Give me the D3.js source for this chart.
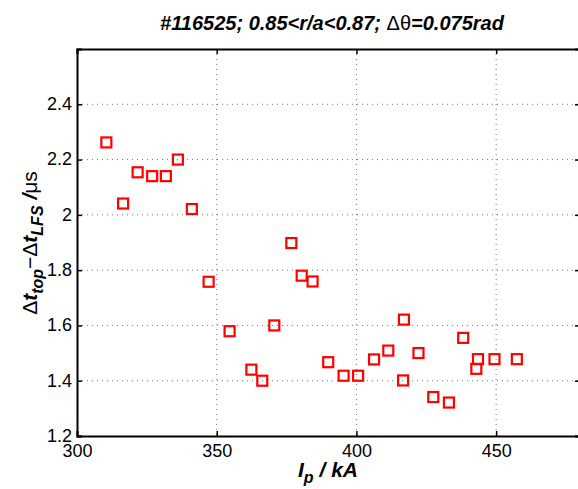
<!DOCTYPE html>
<html><head><meta charset="utf-8">
<script src="https://cdn.jsdelivr.net/npm/d3@7"></script>
<style>body{margin:0;background:#fff}svg{display:block}</style>
</head><body>
<script>
const currentKA = [310.5,316.5,321.7,326.9,331.8,336.1,341.1,347.1,354.6,362.4,366.3,370.6,376.7,380.4,384.3,389.9,395.4,400.6,406.3,411.4,417.0,416.7,422.2,427.5,433.1,438.2,443.5,442.9,449.4,457.4];
const deltaT = [2.262,2.041,2.154,2.14,2.14,2.2,2.021,1.758,1.579,1.44,1.40,1.60,1.898,1.78,1.759,1.467,1.418,1.418,1.477,1.509,1.621,1.401,1.50,1.341,1.321,1.555,1.478,1.443,1.478,1.478];
const xTicks = [300,350,400,450];
const yTicks = [1.2,1.4,1.6,1.8,2,2.2,2.4];

const W=578,H=489;
const m={l:77,r:580,t:49,b:436};
const svg=d3.select("body").append("svg").attr("width",W).attr("height",H);
const x=d3.scaleLinear().domain([300,480]).range([m.l,m.r]);
const y=d3.scaleLinear().domain([1.2,2.6]).range([m.b,m.t]);
const font="Liberation Sans, Arial, sans-serif";

// grid
const g=svg.append("g");
g.selectAll(".gx").data(xTicks.slice(1)).enter().append("line")
 .attr("x1",d=>x(d)).attr("x2",d=>x(d)).attr("y1",m.t).attr("y2",m.b)
 .attr("stroke","#777").attr("stroke-width",1).attr("stroke-dasharray","1,4");
g.selectAll(".gy").data(yTicks.slice(1)).enter().append("line")
 .attr("y1",d=>y(d)).attr("y2",d=>y(d)).attr("x1",m.l).attr("x2",m.r)
 .attr("stroke","#777").attr("stroke-width",1).attr("stroke-dasharray","1,4");

// axes
const xa=svg.append("g").attr("transform",`translate(0,${m.b})`)
 .call(d3.axisBottom(x).tickValues(xTicks).tickSize(-5).tickPadding(8).tickFormat(d3.format("d")));
const xt=svg.append("g").attr("transform",`translate(0,${m.t})`)
 .call(d3.axisTop(x).tickValues(xTicks).tickSize(-5).tickFormat(""));
const ya=svg.append("g").attr("transform",`translate(${m.l},0)`)
 .call(d3.axisLeft(y).tickValues(yTicks).tickSize(-5).tickPadding(5).tickFormat(d=>d3.format("")(d)));
const yr=svg.append("g").attr("transform",`translate(${m.r},0)`)
 .call(d3.axisRight(y).tickValues(yTicks).tickSize(-5).tickFormat(""));
[xa,xt,ya,yr].forEach(a=>{
 a.select(".domain").attr("stroke","#000").attr("stroke-width",2);
 a.selectAll(".tick line").attr("stroke","#000").attr("stroke-width",1.5);
 a.selectAll(".tick text").attr("font-family",font).attr("font-size",18).attr("fill","#000");
});
ya.selectAll(".tick text").attr("dy","0.3em");

// points
svg.append("g").selectAll("rect").data(currentKA.map((v,i)=>[v,deltaT[i]])).enter().append("rect")
 .attr("x",d=>x(d[0])-5).attr("y",d=>y(d[1])-5).attr("width",10).attr("height",10)
 .attr("fill","none").attr("stroke","#f00").attr("stroke-width",2.2);

// title
const t=svg.append("text").attr("x",332).attr("y",30).attr("text-anchor","middle")
 .attr("font-family",font).attr("font-size",20).attr("font-weight","bold").attr("font-style","italic");
t.append("tspan").text("#116525; 0.85<r/a<0.87; ");
t.append("tspan").attr("font-weight","normal").attr("font-style","normal").text("Δθ");
t.append("tspan").text("=0.075rad");

// x label
const xl=svg.append("text").attr("x",298).attr("y",477)
 .attr("font-family",font).attr("font-size",21).attr("font-weight","bold").attr("font-style","italic");
xl.append("tspan").text("I");
xl.append("tspan").attr("font-size",16).attr("dy",6).text("p");
xl.append("tspan").attr("dy",-6).text(" / kA");

// y label
const yl=svg.append("text").attr("transform","translate(37,243) rotate(-90)").attr("text-anchor","middle")
 .attr("font-family",font).attr("font-size",21);
yl.append("tspan").text("Δ");
yl.append("tspan").attr("font-weight","bold").attr("font-style","italic").text("t");
yl.append("tspan").attr("font-weight","bold").attr("font-style","italic").attr("font-size",16).attr("dy",6).text("top");
yl.append("tspan").attr("dy",-6).text("−Δ");
yl.append("tspan").attr("font-weight","bold").attr("font-style","italic").text("t");
yl.append("tspan").attr("font-weight","bold").attr("font-style","italic").attr("font-size",16).attr("dy",6).text("LFS");
yl.append("tspan").attr("dy",-6).attr("font-weight","bold").attr("font-style","italic").text(" /");
yl.append("tspan").text("μs");
</script>
</body></html>
